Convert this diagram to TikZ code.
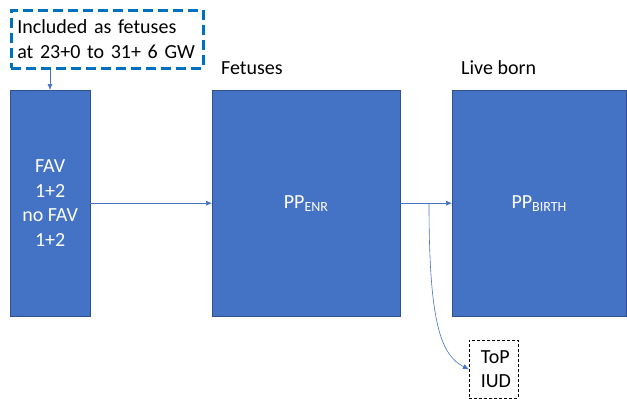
\documentclass[tikz,border=0pt]{standalone}
\usepackage{fontspec}
\setmainfont{Carlito}
\usepackage{xcolor}
\usetikzlibrary{arrows.meta, positioning, calc}

\definecolor{boxblue}{HTML}{4472C4}
\definecolor{edgeblue}{HTML}{2F528F}
\definecolor{noteblue}{HTML}{0070C0}

\begin{document}
\begin{tikzpicture}[
  x=1pt,
  y=-1pt,
  font=\fontsize{20}{24.5}\selectfont,
  stage/.style={rectangle, draw=edgeblue, fill=boxblue, text=white, anchor=north west, align=center, inner sep=0pt},
  note/.style={rectangle, draw=noteblue, dash pattern=on 10pt off 5pt, line width=2.6pt, anchor=north west, align=left, inner sep=0pt, text width=180pt, minimum width=192pt, minimum height=58pt},
  lost/.style={rectangle, draw, densely dashed, line width=0.6pt, anchor=north west, align=left, inner sep=0pt, text width=42pt, minimum width=49pt, minimum height=58pt},
  flow/.style={-{Latex[length=6pt,width=5pt]}, draw=boxblue, line width=0.6pt}
]

\useasboundingbox (0,0) rectangle (627,399);

% Note above the first group
\node[note] (incl) at (10,9) {Included as fetuses\\at 23+0 to 31+ 6 GW};

% Stage boxes
\node[stage, minimum width=80pt, minimum height=226pt] (fav) at (10,90) {FAV\\1+2\\no FAV\\1+2};
\node[stage, minimum width=188pt, minimum height=226pt] (enr) at (212,90) {PP\textsubscript{ENR}};
\node[stage, minimum width=174pt, minimum height=226pt] (birth) at (452,90) {PP\textsubscript{BIRTH}};

% Headings
\node[anchor=west, inner sep=0pt] (fetlab) at (221,68) {Fetuses};
\node[anchor=west, inner sep=0pt] (livelab) at (461,68) {Live born};

% Drop-out box
\node[lost] (topiud) at (469,340) {\hspace{8pt}ToP\\\hspace{8pt}IUD};

% Connectors
\coordinate (split) at (429,203);
\draw[flow] (incl.south -| 50,0) -- (fav.north -| 50,0);
\draw[flow] (fav.east) -- (enr.west);
\draw[flow] (enr.east) -- (birth.west);
\draw[flow] (split) .. controls (429,320) and (440,355) .. (topiud.west);

\end{tikzpicture}
\end{document}
